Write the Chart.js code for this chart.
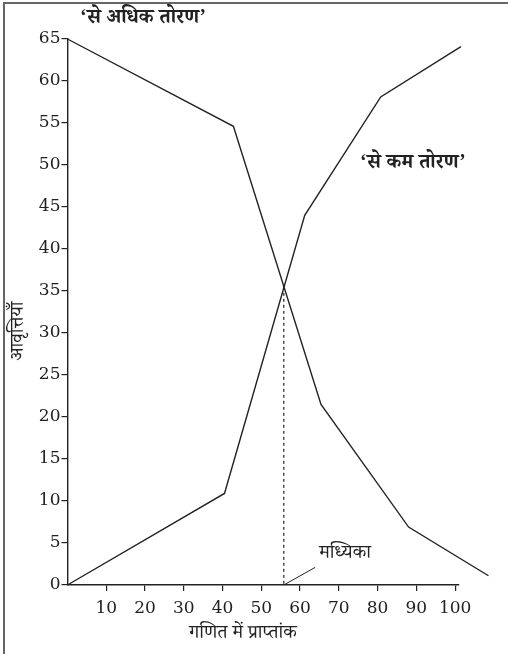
<!DOCTYPE html>
<html>
<head>
<meta charset="utf-8">
<script src="https://cdn.jsdelivr.net/npm/chart.js@4.4.1/dist/chart.umd.min.js"></script>
<style>
  html, body { margin: 0; padding: 0; background: #fff; }
  #wrap { position: relative; width: 508px; height: 654px; overflow: hidden; }
  #frame { position: absolute; left: 3px; top: 2px; width: 620px; height: 720px;
           border-left: 2px solid #666; border-top: 2px solid #666; }
  canvas { position: absolute; left: 0; top: 0; }
</style>
</head>
<body>
<div id="wrap">
  <div id="frame"></div>
  <canvas id="ogiveChart" width="508" height="654"></canvas>
</div>
<script>
// 'से अधिक तोरण' (more than ogive)
const moreThanX = [0, 42.8, 65.4, 88.0, 108.6];
const moreThanY = [65, 54.6, 21.5, 6.9, 1.1];
// 'से कम तोरण' (less than ogive)
const lessThanX = [0, 40.5, 61.2, 80.8, 101.5];
const lessThanY = [0, 10.9, 44.0, 58.1, 64.1];
// median where the two curves cross
const medianX = 55.8;
const medianY = 35.5;
const medianLabelAt = [63.9, 2.1];

const xTicks = [10, 20, 30, 40, 50, 60, 70, 80, 90, 100];
const yTicks = [0, 5, 10, 15, 20, 25, 30, 35, 40, 45, 50, 55, 60, 65];

const ink = '#222';
const deva = "'Noto Serif Devanagari', 'Noto Sans Devanagari', 'Lohit Devanagari', 'Noto Sans', serif";

function pts(xs, ys) {
    return xs.map((x, i) => ({ x: x, y: ys[i] }));
}

// texts drawn on top of the chart
const labelsPlugin = {
    id: 'labels',
    afterDraw(chart) {
        const ctx = chart.ctx;
        const xs = chart.scales.x;
        const ys = chart.scales.y;
        ctx.save();
        ctx.fillStyle = ink;
        ctx.textBaseline = 'middle';

        ctx.font = 'bold 20px ' + deva;
        ctx.textAlign = 'left';
        ctx.fillText('‘से अधिक तोरण’', 80, 21);
        ctx.fillText('‘से कम तोरण’', 360, 166);

        ctx.font = '19px ' + deva;
        ctx.fillText('मध्यिका', xs.getPixelForValue(medianLabelAt[0]) + 4, ys.getPixelForValue(medianLabelAt[1]) - 11);

        ctx.textAlign = 'center';
        ctx.fillText('गणित में प्राप्तांक', 243, 636);

        ctx.translate(21, 331);
        ctx.rotate(-Math.PI / 2);
        ctx.fillText('आवृत्तियाँ', 0, 0);
        ctx.restore();
    }
};

new Chart(document.getElementById('ogiveChart').getContext('2d'), {
    type: 'line',
    data: {
        datasets: [
            {
                label: 'से अधिक तोरण',
                data: pts(moreThanX, moreThanY),
                borderColor: ink,
                borderWidth: 1.4,
                pointRadius: 0,
                clip: false,
            },
            {
                label: 'से कम तोरण',
                data: pts(lessThanX, lessThanY),
                borderColor: ink,
                borderWidth: 1.4,
                pointRadius: 0,
                clip: false,
            },
            {
                label: 'मध्यिका',
                data: [{ x: medianX, y: medianY }, { x: medianX, y: 0 }],
                borderColor: ink,
                borderWidth: 1.2,
                borderDash: [3, 3],
                pointRadius: 0,
            },
            {
                label: 'मध्यिका संकेत',
                data: [{ x: medianX, y: 0 }, { x: medianLabelAt[0], y: medianLabelAt[1] }],
                borderColor: ink,
                borderWidth: 1,
                pointRadius: 0,
                clip: false,
            },
        ],
    },
    options: {
        responsive: false,
        animation: false,
        events: [],
        layout: { padding: { top: 39, right: 49, bottom: 0, left: 0 } },
        plugins: { legend: { display: false }, tooltip: { enabled: false } },
        scales: {
            x: {
                type: 'linear',
                min: 0,
                max: 101,
                afterFit: (s) => { s.height = 69; },
                afterBuildTicks: (s) => { s.ticks = xTicks.map(v => ({ value: v })); },
                grid: { drawOnChartArea: false, color: ink, tickLength: 6, lineWidth: 1.2 },
                border: { color: ink, width: 1.4 },
                ticks: {
                    color: ink,
                    font: { family: "'DejaVu Serif', serif", size: 17 },
                    padding: 7,
                    maxRotation: 0,
                    autoSkip: false,
                },
            },
            y: {
                min: 0,
                max: 65,
                afterFit: (s) => { s.width = 67.5; },
                afterBuildTicks: (s) => { s.ticks = yTicks.map(v => ({ value: v })); },
                grid: { drawOnChartArea: false, color: ink, tickLength: 6, lineWidth: 1.2 },
                border: { color: ink, width: 1.4 },
                ticks: {
                    color: ink,
                    font: { family: "'DejaVu Serif', serif", size: 17 },
                    padding: 1,
                    autoSkip: false,
                },
            },
        },
    },
    plugins: [labelsPlugin],
});
</script>
</body>
</html>
